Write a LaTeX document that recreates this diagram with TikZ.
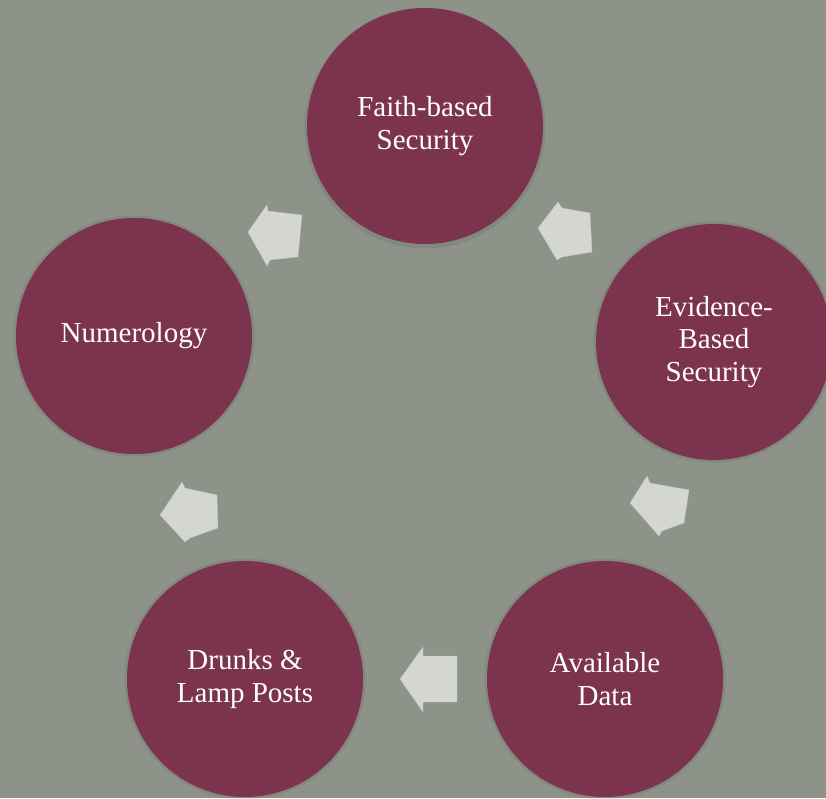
\documentclass[tikz,border=0pt]{standalone}
\usepackage{fontspec}
\setmainfont{Liberation Serif}
\definecolor{bgc}{RGB}{141,147,136}
\definecolor{circc}{RGB}{124,52,78}
\definecolor{arrc}{RGB}{212,215,207}
\tikzset{
  stage/.style={circle, fill=circc, minimum size=236pt, inner sep=0pt,
    text=white, align=center, font=\fontsize{29}{32.5}\selectfont},
  halo/.style={circle, fill=black, opacity=0.07, minimum size=241pt, inner sep=0pt},
  blockarrow/.style={fill=arrc, draw=arrc!90!black, line width=0.4pt, line join=round}
}
\begin{document}
\begin{tikzpicture}[x=1pt,y=-1pt]
  \fill[bgc] (0,0) rectangle (826,798);
  \useasboundingbox (0,0) rectangle (826,798);
  % halos
  \foreach \p in {(425,128),(714,342),(605,679),(245,679),(134,336)}
    \node[halo] at \p {};
  % stages
  \node[stage] (faith) at (425,126) {Faith-based\\Security};
  \node[stage] (evid) at (714,342) {Evidence-\\Based\\Security};
  \node[stage] (avail) at (605,679) {Available\\Data};
  \node[stage] (drunk) at (245,679) {Drunks \&\\Lamp Posts};
  \node[stage] (numer) at (134,336) {Numerology};
  % block arrows
  \filldraw[blockarrow] (248,232) -- (267,205) -- (268,211) -- (302,215) -- (298,257) -- (270,260) -- (267,266) -- cycle;
  \filldraw[blockarrow] (538,228) -- (558,202) -- (562,208) -- (590,213) -- (592,252) -- (562,257) -- (557,260) -- cycle;
  \filldraw[blockarrow] (630,503) -- (647,476) -- (650,483) -- (689,490) -- (684,523) -- (662,531) -- (659,536) -- cycle;
  \filldraw[blockarrow] (400,679) -- (423,647) -- (423,656) -- (457,656) -- (457,702) -- (423,702) -- (423,712) -- cycle;
  \filldraw[blockarrow] (160,515) -- (182,482) -- (185,488) -- (217,495) -- (218,528) -- (190,538) -- (185,542) -- cycle;
\end{tikzpicture}
\end{document}
